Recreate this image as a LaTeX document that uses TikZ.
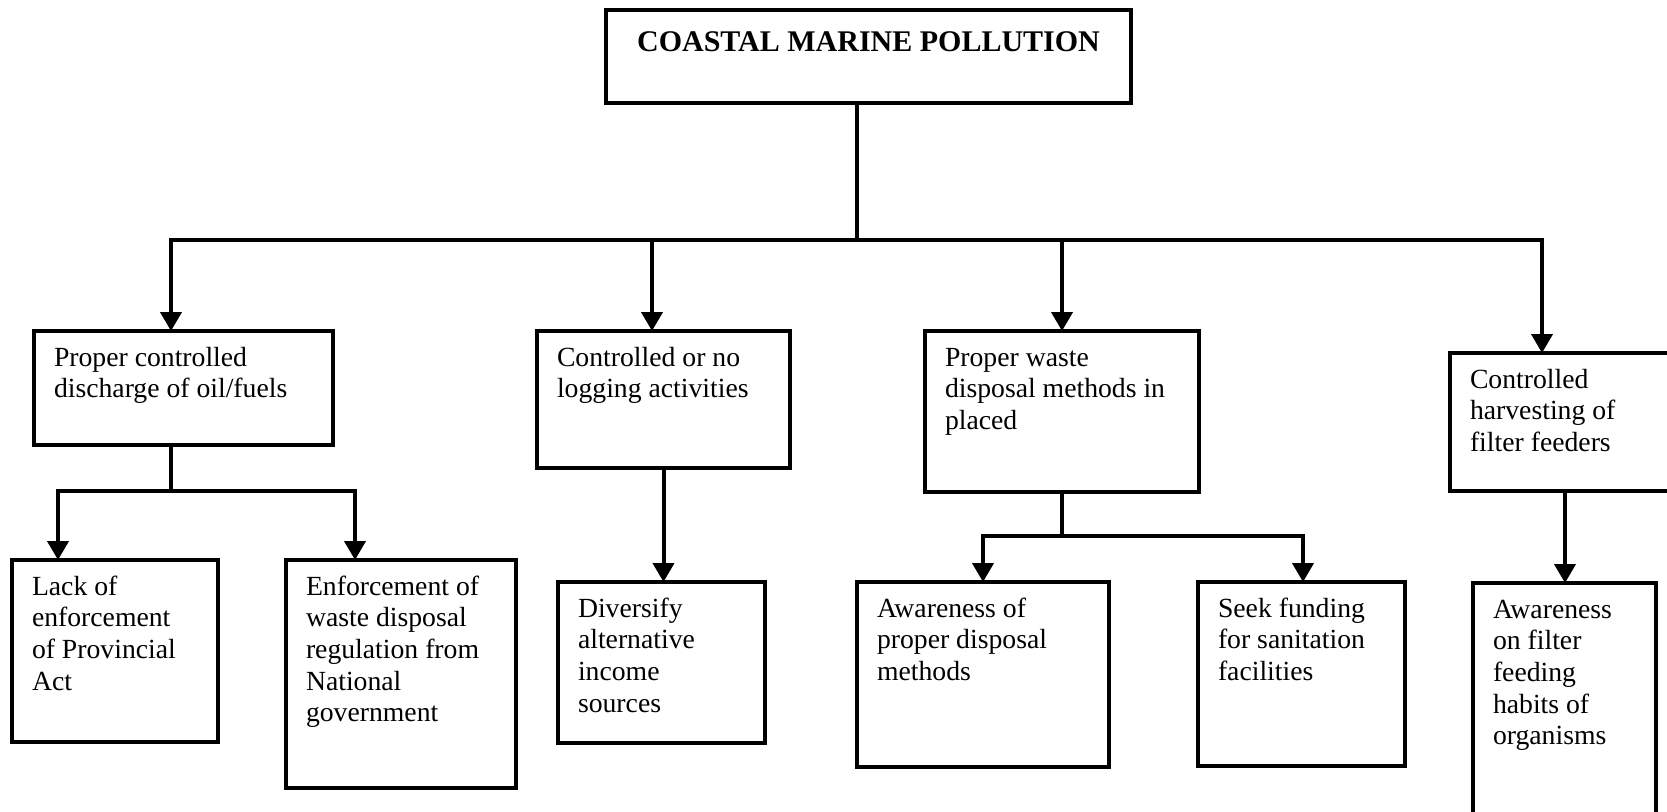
\documentclass[tikz,border=0pt]{standalone}
\usepackage{fontspec}
\setmainfont{Liberation Serif}
\usetikzlibrary{arrows.meta}
\tikzset{
  box/.style={draw, line width=3.6pt, inner xsep=20pt, inner ysep=13pt, outer sep=0pt, anchor=north west,
    font=\fontsize{27.7pt}{31.7pt}\selectfont},
  ln/.style={line width=4pt},
  arr/.style={line width=4pt, -{Triangle[width=21pt,length=19pt]}}
}
\newcommand\mkbox[6]{%
  \pgfmathsetmacro\bw{#4-#2}\pgfmathsetmacro\bh{#5-#3}%
  \pgfmathsetmacro\pw{\bw-40}\pgfmathsetmacro\ph{\bh-26}%
  \node[box] (#1) at (#2,#3) {\parbox[c][\ph pt][t]{\pw pt}{\raggedright\strut #6}};}
\begin{document}
\begin{tikzpicture}[x=1pt,y=-1pt]
\useasboundingbox (0,0) rectangle (1667,811);
\fill[white] (0,0) rectangle (1667,811);
\begin{scope}
\clip (0,0) rectangle (1667,811);
% top box
\node[draw, line width=3.6pt, inner xsep=20pt, inner ysep=18pt, outer sep=0pt, anchor=north west,
  font=\fontsize{30pt}{34pt}\selectfont\bfseries] (top) at (606,10)
  {\parbox[c][57pt][t]{485pt}{\centering\strut COASTAL MARINE POLLUTION}};
% level 1
\mkbox{A}{34}{331}{333}{445}{Proper controlled\\discharge of oil/fuels}
\mkbox{B}{537}{331}{790}{468}{Controlled or no\\logging activities}
\mkbox{C}{925}{331}{1199}{492}{Proper waste\\disposal methods in\\placed}
\mkbox{D}{1450}{353}{1690}{491}{Controlled\\harvesting of\\filter feeders}
% level 2
\mkbox{A1}{12}{560}{218}{742}{Lack of\\enforcement\\of Provincial\\Act}
\mkbox{A2}{286}{560}{516}{788}{Enforcement of\\waste disposal\\regulation from\\National\\government}
\mkbox{B1}{558}{582}{765}{743}{Diversify\\alternative\\income\\sources}
\mkbox{C1}{857}{582}{1109}{767}{Awareness of\\proper disposal\\methods}
\mkbox{C2}{1198}{582}{1405}{766}{Seek funding\\for sanitation\\facilities}
\mkbox{D1}{1473}{583}{1656}{830}{Awareness\\on filter\\feeding\\habits of\\organisms}
% connectors
\coordinate (hub) at (857,240);
\draw[ln] (top.south -| hub) -- (hub);
\draw[arr] (hub) -| ([xshift=-12.5pt]A.north);
\draw[arr] (hub) -| ([xshift=-11.5pt]B.north);
\draw[arr] (hub) -| (C.north);
\draw[arr] (hub) -| ([xshift=-28pt]D.north);
\coordinate (hA) at (171,491);
\draw[ln] ([xshift=-12.5pt]A.south) -- (hA);
\draw[arr] (hA) -| ([xshift=-57pt]A1.north);
\draw[arr] (hA) -| ([xshift=-46pt]A2.north);
\draw[arr] (B.south) -- (B.south |- B1.north);
\coordinate (hC) at (1062,536);
\draw[ln] (C.south) -- (hC);
\draw[arr] (hC) -| (C1.north);
\draw[arr] (hC) -| ([xshift=1.5pt]C2.north);
\draw[arr] ([xshift=-5pt]D.south) -- ([xshift=-5pt]D.south |- D1.north);
\end{scope}
\end{tikzpicture}
\end{document}
